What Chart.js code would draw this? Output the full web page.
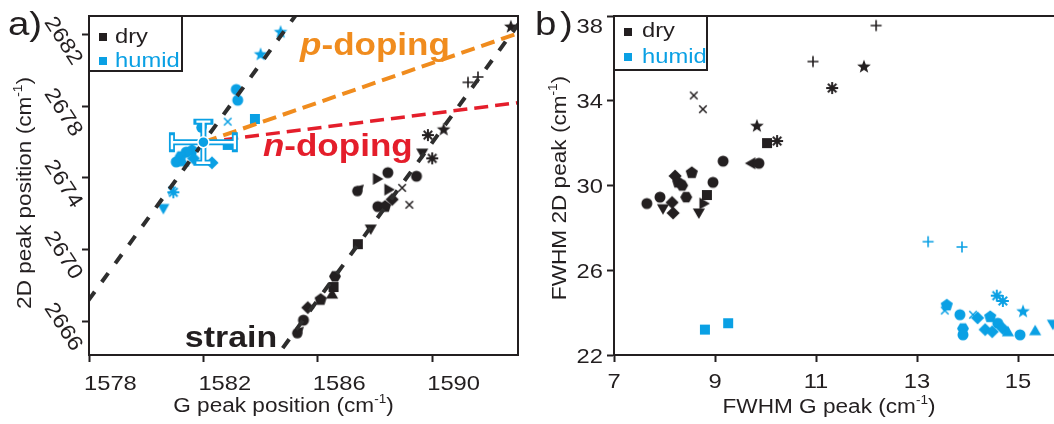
<!DOCTYPE html>
<html>
<head>
<meta charset="utf-8">
<script src="https://cdn.jsdelivr.net/npm/chart.js@4.4.0/dist/chart.umd.min.js"></script>
<style>
    html, body { margin: 0; padding: 0; background: #fff; overflow: hidden; width: 1054px; height: 424px; }
    #wrapA { position: absolute; left: 0; top: 0; width: 530px; height: 424px; }
    #wrapB { position: absolute; left: 530px; top: 0; width: 580px; height: 424px; }
</style>
</head>
<body>
<div id="wrapA"><canvas id="chartA"></canvas></div>
<div id="wrapB"><canvas id="chartB"></canvas></div>
<script>
// panel a) : G vs 2D peak position
const aXTicks = [1578, 1582, 1586, 1590],
    aYTicks = [2666, 2670, 2674, 2678, 2682];

const aDryG = [1592.75, 1591.25, 1591.6, 1590.4, 1589.85, 1589.65, 1590.0, 1589.45, 1588.45, 1588.05,
    1588.45, 1588.95, 1589.2, 1587.4, 1588.1, 1588.35, 1588.6, 1587.85, 1587.4, 1586.6,
    1586.55, 1586.5, 1586.1, 1585.65, 1585.5, 1585.3];
const aDry2D = [2682.45, 2679.35, 2679.65, 2676.7, 2676.4, 2675.45, 2675.1, 2674.1, 2674.3, 2673.95,
    2673.35, 2673.45, 2672.5, 2673.3, 2672.4, 2672.4, 2672.8, 2671.2, 2670.3, 2668.5,
    2667.9, 2667.45, 2667.2, 2666.75, 2666.05, 2665.35];
const aDryMk = ['star5', 'cross', 'cross', 'star5', 'asterisk', 'triDown', 'asterisk', 'circle', 'circle', 'triRight',
    'triRight', 'crossRot', 'crossRot', 'drop', 'circle', 'pentagon', 'rectRot', 'triDown', 'rect', 'hexagon',
    'rect', 'triangle', 'pentagon', 'rectRot', 'circle', 'drop'];

const aHumG = [1584.7, 1584.0, 1583.15, 1583.2, 1583.8, 1582.85, 1581.95, 1582.85, 1582.3, 1581.6,
    1581.4, 1581.2, 1581.05, 1581.3, 1581.65, 1580.9, 1580.95, 1580.6];
const aHum2D = [2682.15, 2680.9, 2678.95, 2678.35, 2677.3, 2677.15, 2676.85, 2675.85, 2674.85, 2675.55,
    2675.45, 2675.2, 2674.9, 2674.85, 2675.1, 2673.3, 2673.2, 2672.35];
const aHumMk = ['star5', 'star5', 'circle', 'circle', 'rect', 'crossRot', 'drop', 'rect', 'rectRot', 'pentagon',
    'circle', 'hexagon', 'circle', 'triangle', 'rectRot', 'crossRot', 'asterisk', 'triDown'];

// guide lines (G, 2D end points)
const strainLoG = [1577.5, 1586.0], strainLo2D = [2666.1, 2684.8];
const strainHiG = [1584.3, 1593.3], strainHi2D = [2663.44, 2683.24];
const pDopeG = [1582.0, 1593.2], pDope2D = [2676.0, 2682.2];
const nDopeG = [1582.0, 1593.2], nDope2D = [2676.0, 2678.25];
const refPoint = [1582.0, 2676.0], refErr = [1.1, 1.15];

// panel b) : FWHM
const bXTicks = [7, 9, 11, 13, 15],
    bYTicks = [22, 26, 30, 34, 38];

const bDryG = [8.58, 8.76, 9.83, 10.23, 10.03, 9.16, 9.73, 9.87, 8.54, 8.96,
    8.21, 8.27, 8.35, 7.91, 7.65, 8.15, 7.97, 8.17, 8.43, 8.84,
    8.76, 8.68, 12.19, 10.94, 11.95, 11.32];
const bDry2D = [34.25, 33.6, 32.8, 32.1, 32.0, 31.15, 31.05, 31.05, 30.6, 30.15,
    30.45, 30.15, 30.0, 29.45, 29.15, 29.2, 28.95, 28.7, 29.45, 29.55,
    29.15, 28.75, 37.55, 35.85, 35.6, 34.6];
const bDryMk = ['crossRot', 'crossRot', 'star5', 'asterisk', 'rect', 'circle', 'triLeft', 'circle', 'pentagon', 'circle',
    'rectRot', 'pentagon', 'hexagon', 'circle', 'circle', 'rectRot', 'triDown', 'rectRot', 'hexagon', 'rect',
    'triRight', 'triDown', 'cross', 'cross', 'star5', 'asterisk'];

const bHumG = [8.80, 9.26, 13.22, 13.89, 14.58, 14.70, 13.55, 13.59, 13.85, 14.11,
    15.10, 14.45, 14.6, 13.91, 13.91, 14.35, 14.49, 14.70, 14.80, 15.04,
    15.34, 15.69, 14.2];
const bHum2D = [23.2, 23.5, 27.35, 27.1, 24.8, 24.55, 24.1, 24.35, 23.9, 23.9,
    24.05, 23.8, 23.5, 23.25, 22.95, 23.2, 23.1, 23.25, 23.05, 22.95,
    23.1, 23.5, 23.75];
const bHumMk = ['rect', 'rect', 'cross', 'cross', 'asterisk', 'asterisk', 'crossRot', 'pentagon', 'circle', 'crossRot',
    'star5', 'pentagon', 'circle', 'hexagon', 'circle', 'rectRot', 'rectRot', 'rectRot', 'triangle', 'circle',
    'triangle', 'triDown', 'rectRot'];

const INK = '#231f20',
    BLUE = '#0aa0e4',
    ORANGE = '#f08c1e',
    RED = '#e41e2b',
    DASH = '#2e2e2e',
    SX = 1.13,
    FONT = '"Liberation Sans", Arial, Helvetica, sans-serif';

const fnt = (px, w = 'normal', st = 'normal') => `${st} ${w} ${px}px ${FONT}`;

// marker sprites, drawn once per shape/colour
const spriteCache = {};
function marker(kind, color) {
    const key = kind + color;
    if (spriteCache[key]) return spriteCache[key];
    const c = document.createElement('canvas');
    c.width = c.height = 18;
    const g = c.getContext('2d');
    g.translate(9, 9);
    g.fillStyle = color;
    g.strokeStyle = color;
    const poly = (n, r, rot) => {
        g.beginPath();
        for (let i = 0; i < n; i++) {
            const a = rot + i * 2 * Math.PI / n;
            g.lineTo(r * Math.cos(a), r * Math.sin(a));
        }
        g.closePath();
        g.fill();
    };
    const spokes = (angles, r, w) => {
        g.lineWidth = w;
        g.beginPath();
        angles.forEach(d => {
            const a = d * Math.PI / 180;
            g.moveTo(-r * Math.cos(a), -r * Math.sin(a));
            g.lineTo(r * Math.cos(a), r * Math.sin(a));
        });
        g.stroke();
    };
    switch (kind) {
        case 'circle': g.beginPath(); g.arc(0, 0, 5.5, 0, 2 * Math.PI); g.fill(); break;
        case 'rect': g.fillRect(-5, -5, 10, 10); break;
        case 'rectRot': poly(4, 6.6, 0); break;
        case 'triangle': poly(3, 7, -Math.PI / 2); break;
        case 'triDown': poly(3, 7, Math.PI / 2); break;
        case 'triRight': poly(3, 7, 0); break;
        case 'triLeft': poly(3, 7, Math.PI); break;
        case 'pentagon': poly(5, 6.4, -Math.PI / 2); break;
        case 'hexagon': poly(6, 6, 0); break;
        case 'star5':
            g.beginPath();
            for (let i = 0; i < 10; i++) {
                const r = i % 2 ? 3 : 7.2, a = -Math.PI / 2 + i * Math.PI / 5;
                g.lineTo(r * Math.cos(a), r * Math.sin(a));
            }
            g.closePath(); g.fill();
            break;
        case 'drop':
            g.beginPath(); g.arc(-0.5, 0.5, 5.2, 0, 2 * Math.PI); g.fill();
            g.beginPath(); g.moveTo(6, -6); g.lineTo(3.2, 4.2); g.lineTo(-4.2, -3.2); g.closePath(); g.fill();
            break;
        case 'asterisk': spokes([0, 45, 90, 135], 6, 1.9); break;
        case 'crossRot': spokes([45, 135], 5.3, 1.5); break;
        case 'cross': spokes([0, 90], 5.5, 1.6); break;
    }
    spriteCache[key] = c;
    return c;
}

function markers(xs, ys, mk, color) {
    return {
        data: xs.map((v, i) => ({ x: v, y: ys[i] })),
        pointStyle: mk.map(k => marker(k, color)),
        pointRadius: 5,
        showLine: false
    };
}

function guide(xs, ys, color, dash, w) {
    return {
        data: xs.map((v, i) => ({ x: v, y: ys[i] })),
        showLine: true,
        borderColor: color,
        borderWidth: w,
        borderDash: dash,
        borderCapStyle: 'butt',
        pointRadius: 0,
        fill: false
    };
}

function axis(min, max, ticks, size, horiz) {
    return {
        type: 'linear',
        min: min,
        max: max,
        afterBuildTicks: s => { s.ticks = ticks.map(v => ({ value: v })); },
        afterFit: s => { if (horiz) s.height = size; else s.width = size; },
        ticks: { display: false },
        grid: { drawOnChartArea: false, drawTicks: true, tickLength: 7, tickWidth: 2, tickColor: INK },
        border: { display: true, color: INK, width: 2 }
    };
}

// text helper: horizontal stretch like the original export
function rich(ctx, segs, x, y, o = {}) {
    ctx.save();
    ctx.translate(x, y);
    if (o.rot) ctx.rotate(o.rot);
    ctx.scale(SX, 1);
    ctx.textAlign = 'left';
    ctx.textBaseline = o.base || 'alphabetic';
    let w = 0;
    segs.forEach(s => { ctx.font = s.font; s.w = ctx.measureText(s.t).width; w += s.w; });
    let cx = o.align === 'center' ? -w / 2 : (o.align === 'right' ? -w : 0);
    segs.forEach(s => {
        ctx.font = s.font;
        ctx.fillStyle = s.color || o.color || INK;
        ctx.fillText(s.t, cx, s.dy || 0);
        cx += s.w;
    });
    ctx.restore();
}
const txt = (ctx, t, x, y, font, o = {}) => rich(ctx, [{ t: t, font: font }], x, y, o);
const cmTitle = (label) => [
    { t: label + ' (cm', font: fnt(20) },
    { t: '-1', font: fnt(12), dy: -9 },
    { t: ')', font: fnt(20) }
];

function drawLegend(ctx, x0, y0, w, h, rows) {
    ctx.save();
    ctx.fillStyle = '#fff';
    ctx.fillRect(x0, y0, w, h);
    ctx.strokeStyle = INK;
    ctx.lineWidth = 2;
    ctx.strokeRect(x0, y0, w, h);
    rows.forEach(r => {
        ctx.fillStyle = r.color;
        ctx.fillRect(r.mx - 4, r.my - 4, 8, 8);
        txt(ctx, r.label, r.tx, r.ty, fnt(21), { color: r.color });
    });
    ctx.restore();
}

const decorA = {
    id: 'decorA',
    afterDatasetsDraw(chart) {
        const { ctx, scales: { x, y } } = chart;
        const cx = x.getPixelForValue(refPoint[0]), cy = y.getPixelForValue(refPoint[1]);
        const xl = x.getPixelForValue(refPoint[0] - refErr[0]), xr = x.getPixelForValue(refPoint[0] + refErr[0]);
        const yt = y.getPixelForValue(refPoint[1] + refErr[1]), yb = y.getPixelForValue(refPoint[1] - refErr[1]);
        const path = () => {
            ctx.beginPath();
            ctx.moveTo(xl, cy); ctx.lineTo(xr, cy);
            ctx.moveTo(cx, yt); ctx.lineTo(cx, yb);
            ctx.moveTo(xl, cy - 7); ctx.lineTo(xl, cy + 7);
            ctx.moveTo(xr, cy - 7); ctx.lineTo(xr, cy + 7);
            ctx.moveTo(cx - 7, yt); ctx.lineTo(cx + 7, yt);
            ctx.moveTo(cx - 7, yb); ctx.lineTo(cx + 7, yb);
        };
        ctx.save();
        path(); ctx.strokeStyle = BLUE; ctx.lineWidth = 6; ctx.lineCap = 'square'; ctx.stroke();
        path(); ctx.strokeStyle = '#fff'; ctx.lineWidth = 2.4; ctx.lineCap = 'butt'; ctx.stroke();
        ctx.beginPath(); ctx.arc(cx, cy, 5.5, 0, 2 * Math.PI);
        ctx.fillStyle = BLUE; ctx.fill();
        ctx.lineWidth = 1.5; ctx.strokeStyle = '#fff'; ctx.stroke();
        ctx.restore();
    },
    afterDraw(chart) {
        const { ctx, chartArea: a, scales: { x, y } } = chart;
        ctx.save();
        ctx.strokeStyle = INK; ctx.lineWidth = 2;
        ctx.strokeRect(a.left, a.top, a.right - a.left, a.bottom - a.top);

        // labels on this panel sit just right of their tick
        aXTicks.forEach(v => txt(ctx, String(v), x.getPixelForValue(v) - 5, 390, fnt(21)));
        aYTicks.forEach(v => txt(ctx, String(v), a.left - 26, y.getPixelForValue(v) + 6, fnt(21),
            { align: 'center', base: 'middle', rot: 57 * Math.PI / 180 }));

        rich(ctx, cmTitle('G peak position'), (a.left + a.right) / 2 - 20, 412, { align: 'center' });
        rich(ctx, cmTitle('2D peak position'), 31, 193, { align: 'center', rot: -Math.PI / 2 });

        rich(ctx, [{ t: 'p', font: fnt(31, 'bold', 'italic') }, { t: '-doping', font: fnt(31, 'bold') }],
            x.getPixelForValue(1585.38), y.getPixelForValue(2680.88), { color: ORANGE });
        rich(ctx, [{ t: 'n', font: fnt(31, 'bold', 'italic') }, { t: '-doping', font: fnt(31, 'bold') }],
            x.getPixelForValue(1584.08), y.getPixelForValue(2675.23), { color: RED });
        txt(ctx, 'strain', x.getPixelForValue(1581.35), y.getPixelForValue(2664.55), fnt(30, 'bold'));

        drawLegend(ctx, a.left, a.top, 93, 55, [
            { color: INK, label: 'dry', mx: 103, my: 37, tx: 115, ty: 43 },
            { color: BLUE, label: 'humid', mx: 103, my: 61, tx: 115, ty: 67 }
        ]);
        txt(ctx, 'a)', 8, 35, fnt(34));
        ctx.restore();
    }
};

const decorB = {
    id: 'decorB',
    afterDraw(chart) {
        const { ctx, chartArea: a, scales: { x, y } } = chart;
        ctx.save();
        ctx.strokeStyle = INK; ctx.lineWidth = 2;
        ctx.strokeRect(a.left, a.top, a.right - a.left, a.bottom - a.top);

        bXTicks.forEach(v => txt(ctx, String(v), x.getPixelForValue(v), 388, fnt(21), { align: 'center' }));
        bYTicks.forEach(v => txt(ctx, String(v), a.left - 11, Math.max(y.getPixelForValue(v), 25) + 7.5, fnt(21),
            { align: 'right' }));

        rich(ctx, cmTitle('FWHM G peak'), 299, 413, { align: 'center' });
        rich(ctx, cmTitle('FWHM 2D peak'), 36, 188, { align: 'center', rot: -Math.PI / 2 });

        drawLegend(ctx, a.left, a.top, 93, 54, [
            { color: INK, label: 'dry', mx: 98, my: 32, tx: 112, ty: 37 },
            { color: BLUE, label: 'humid', mx: 98, my: 57, tx: 112, ty: 63 }
        ]);
        txt(ctx, 'b', 5, 35, fnt(34));
        txt(ctx, ')', 30, 35, fnt(34));
        ctx.restore();
    }
};

const common = {
    responsive: true,
    maintainAspectRatio: false,
    animation: false,
    events: [],
    devicePixelRatio: 1,
    plugins: { legend: { display: false }, tooltip: { enabled: false } }
};

new Chart(document.getElementById('chartA').getContext('2d'), {
    type: 'scatter',
    data: {
        datasets: [
            guide(strainLoG, strainLo2D, DASH, [11, 12], 4),
            guide(strainHiG, strainHi2D, DASH, [11, 12], 4),
            guide(pDopeG, pDope2D, ORANGE, [14, 7], 4),
            guide(nDopeG, nDope2D, RED, [14, 7], 3.5),
            markers(aHumG, aHum2D, aHumMk, BLUE),
            markers(aDryG, aDry2D, aDryMk, INK)
        ]
    },
    options: {
        ...common,
        layout: { padding: { left: 0, top: 16, right: 12, bottom: 0 } },
        scales: {
            x: axis(1578, 1593, aXTicks, 69, true),
            y: axis(2664.1, 2683.06, aYTicks, 89, false)
        }
    },
    plugins: [decorA]
});

new Chart(document.getElementById('chartB').getContext('2d'), {
    type: 'scatter',
    data: {
        datasets: [
            markers(bDryG, bDry2D, bDryMk, INK),
            markers(bHumG, bHum2D, bHumMk, BLUE)
        ]
    },
    options: {
        ...common,
        layout: { padding: { left: 0, top: 16, right: 16.25, bottom: 0 } },
        scales: {
            x: axis(7, 16.5, bXTicks, 69, true),
            y: axis(22, 38, bYTicks, 84, false)
        }
    },
    plugins: [decorB]
});
</script>
</body>
</html>
